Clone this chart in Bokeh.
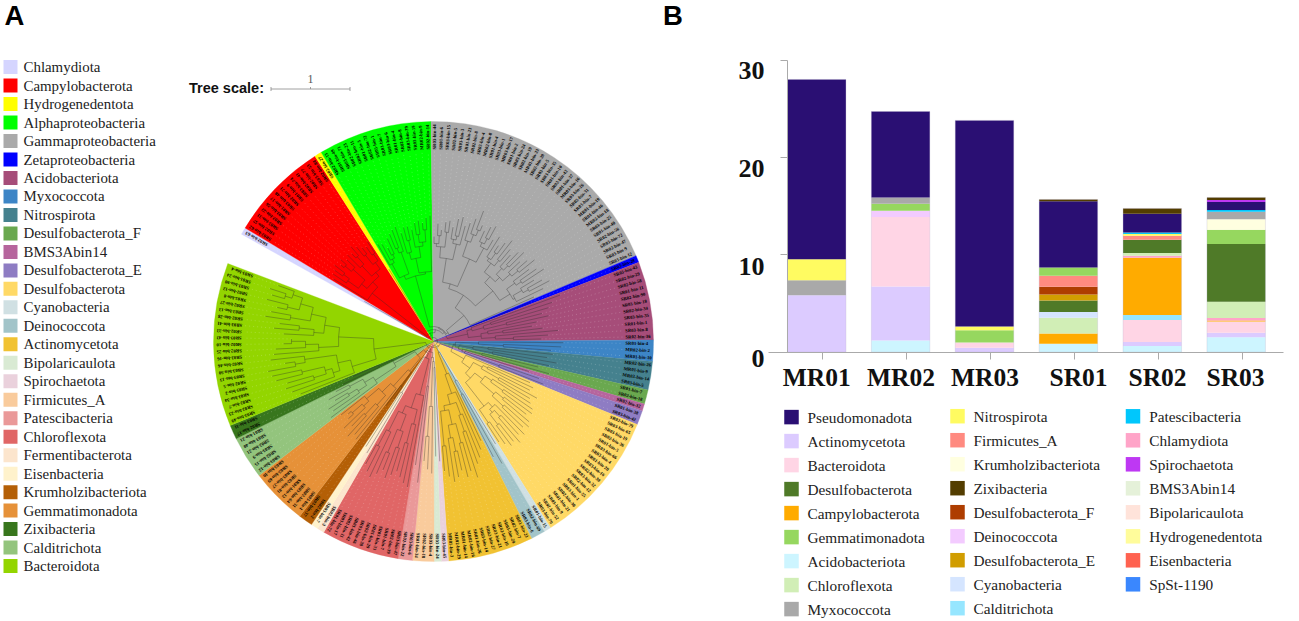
import math
from bokeh.core.properties import value
from bokeh.embed import file_html
from bokeh.layouts import row
from bokeh.models import ColumnDataSource, CustomJSTickFormatter, FixedTicker, Range1d
from bokeh.plotting import figure
from bokeh.resources import INLINE

# ---------- panel A data ----------
tree_clades = ["Chlamydiota", "Campylobacterota", "Hydrogenedentota", "Alphaproteobacteria",
               "Gammaproteobacteria", "Zetaproteobacteria", "Acidobacteriota", "Myxococcota",
               "Nitrospirota", "Desulfobacterota_F", "BMS3Abin14", "Desulfobacterota_E",
               "Desulfobacterota", "Cyanobacteria", "Deinococcota", "Actinomycetota",
               "Spirochaetota", "Bipolaricaulota", "Firmicutes_A", "Patescibacteria",
               "Chloroflexota", "Fermentibacterota", "Eisenbacteria", "Krumholzibacteriota",
               "Gemmatimonadota", "Calditrichota", "Zixibacteria", "Bacteroidota"]
legend_a = ["Chlamydiota", "Campylobacterota", "Hydrogenedentota", "Alphaproteobacteria",
            "Gammaproteobacteria", "Zetaproteobacteria", "Acidobacteriota", "Myxococcota",
            "Nitrospirota", "Desulfobacterota_F", "BMS3Abin14", "Desulfobacterota_E",
            "Desulfobacterota", "Cyanobacteria", "Deinococcota", "Actinomycetota",
            "Bipolaricaulota", "Spirochaetota", "Firmicutes_A", "Patescibacteria",
            "Chloroflexota", "Fermentibacterota", "Eisenbacteria", "Krumholzibacteriota",
            "Gemmatimonadota", "Zixibacteria", "Calditrichota", "Bacteroidota"]
colors_a = {"Chlamydiota": "#D5D5FF", "Campylobacterota": "#FF0000", "Hydrogenedentota": "#FFFF00",
            "Alphaproteobacteria": "#00FF00", "Gammaproteobacteria": "#AAAAAA", "Zetaproteobacteria": "#0000FF",
            "Acidobacteriota": "#A64D79", "Myxococcota": "#3D85C6", "Nitrospirota": "#45818E",
            "Desulfobacterota_F": "#6AA84F", "BMS3Abin14": "#B6659D", "Desulfobacterota_E": "#8E7CC3",
            "Desulfobacterota": "#FFD966", "Cyanobacteria": "#D0E0E3", "Deinococcota": "#A2C4C9",
            "Actinomycetota": "#F1C232", "Bipolaricaulota": "#D9EAD3", "Spirochaetota": "#EAD1DC",
            "Firmicutes_A": "#F9CB9C", "Patescibacteria": "#EA9999", "Chloroflexota": "#E06666",
            "Fermentibacterota": "#FCE5CD", "Eisenbacteria": "#FFF2CC", "Krumholzibacteriota": "#B45F06",
            "Gemmatimonadota": "#E69138", "Zixibacteria": "#38761D", "Calditrichota": "#93C47D",
            "Bacteroidota": "#93D500"}

leaves = {
    "Chlamydiota": ["SR02-bin-63"],
    "Campylobacterota": ["SR02-bin-62", "SR02-bin-57", "SR03-bin-31", "SR02-bin-22", "SR03-bin-56", "SR01-bin-17",
                         "SR03-bin-48", "SR02-bin-71", "SR01-bin-9", "SR03-bin-74", "SR02-bin-41", "SR02-bin-77",
                         "SR03-bin-53", "SR02-bin-84"],
    "Hydrogenedentota": ["SR02-bin-27"],
    "Alphaproteobacteria": ["SR02-bin-13", "SR01-bin-49", "SR03-bin-71", "SR02-bin-23", "SR02-bin-11", "SR01-bin-3",
                            "SR02-bin-72", "SR03-bin-1", "SR03-bin-7", "SR03-bin-6", "SR01-bin-4", "SR02-bin-8",
                            "SR03-bin-39", "SR03-bin-19", "MR02-bin-9", "SR02-bin-14"],
    "Gammaproteobacteria": ["SR03-bin-44", "SR01-bin-6", "SR03-bin-15", "SR02-bin-5", "SR03-bin-3", "SR01-bin-23",
                            "SR02-bin-8", "SR03-bin-4", "MR02-bin-8", "SR01-bin-4", "SR03-bin-1", "MR03-bin-17",
                            "SR01-bin-2", "SR03-bin-24", "SR02-bin-19", "MR01-bin-23", "SR02-bin-28", "SR03-bin-5",
                            "SR03-bin-35", "SR01-bin-10", "SR02-bin-42", "SR01-bin-37", "MR03-bin-16", "SR03-bin-26",
                            "SR02-bin-31", "SR03-bin-7", "MR01-bin-19", "SR01-bin-46", "MR02-bin-18", "SR03-bin-25",
                            "SR01-bin-40", "SR02-bin-56", "SR03-bin-72", "SR02-bin-47", "SR03-bin-9", "SR03-bin-12"],
    "Zetaproteobacteria": ["SR03-bin-28"],
    "Acidobacteriota": ["SR03-bin-43", "SR02-bin-29", "SR02-bin-58", "SR01-bin-11", "SR02-bin-90", "SR03-bin-18",
                        "SR02-bin-34", "SR03-bin-35", "SR01-bin-1", "SR03-bin-8", "SR02-bin-36"],
    "Myxococcota": ["SR03-bin-4", "MR02-bin-2", "MR01-bin-10"],
    "Nitrospirota": ["MR02-bin-26", "MR01-bin-9", "MR03-bin-14", "SR03-bin-5"],
    "Desulfobacterota_F": ["SR01-bin-7", "SR02-bin-18"],
    "BMS3Abin14": ["SR02-bin-32"],
    "Desulfobacterota_E": ["SR01-bin-38", "SR03-bin-42"],
    "Desulfobacterota": ["SR02-bin-79", "SR03-bin-65", "SR03-bin-19", "SR02-bin-36", "SR01-bin-5", "SR03-bin-66",
                         "SR03-bin-4", "SR01-bin-20", "SR03-bin-16", "SR02-bin-30", "SR03-bin-32", "SR02-bin-12",
                         "SR01-bin-55", "SR03-bin-1", "SR02-bin-30", "SR01-bin-21", "SR03-bin-9", "SR02-bin-52",
                         "SR03-bin-70"],
    "Cyanobacteria": ["SR01-bin-15"],
    "Deinococcota": ["SR02-bin-69", "SR03-bin-6"],
    "Actinomycetota": ["SR01-bin-23", "SR02-bin-7", "SR03-bin-29", "SR02-bin-10", "SR03-bin-21", "SR02-bin-27",
                       "SR03-bin-14", "SR01-bin-26", "MR02-bin-16", "MR01-bin-14", "MR02-bin-29", "MR01-bin-3"],
    "Spirochaetota": ["SR03-bin-45"],
    "Bipolaricaulota": ["SR03-bin-24"],
    "Firmicutes_A": ["SR03-bin-4", "SR02-bin-18", "SR01-bin-34"],
    "Patescibacteria": ["SR03-bin-6", "SR02-bin-22"],
    "Chloroflexota": ["SR03-bin-47", "SR02-bin-39", "SR01-bin-7", "SR03-bin-33", "SR01-bin-29", "SR02-bin-38",
                      "SR03-bin-46", "SR01-bin-42", "SR02-bin-11", "SR03-bin-17", "SR01-bin-72"],
    "Fermentibacterota": ["SR02-bin-3"],
    "Eisenbacteria": ["SR03-bin-7"],
    "Krumholzibacteriota": ["SR02-bin-2", "SR03-bin-37"],
    "Gemmatimonadota": ["SR03-bin-1", "SR02-bin-31", "SR03-bin-64", "SR01-bin-12", "SR02-bin-81", "SR03-bin-27",
                        "SR02-bin-69", "SR03-bin-10"],
    "Calditrichota": ["SR03-bin-12", "SR02-bin-15", "SR03-bin-9", "SR02-bin-21", "SR03-bin-40", "SR01-bin-21"],
    "Zixibacteria": ["SR02-bin-17", "SR03-bin-11"],
    "Bacteroidota": ["SR03-bin-49", "SR02-bin-23", "SR02-bin-7", "SR03-bin-34", "SR03-bin-2", "SR02-bin-5",
                     "SR03-bin-13", "SR03-bin-50", "SR02-bin-46", "SR03-bin-16", "SR02-bin-25", "SR02-bin-10",
                     "SR03-bin-43", "SR02-bin-33", "SR03-bin-41", "SR02-bin-28", "SR03-bin-13", "SR02-bin-27",
                     "SR03-bin-8", "SR02-bin-12", "SR03-bin-90", "SR01-bin-24", "SR03-bin-4"],
}
# branch tips and merge depths of each clade (distance from the root)
tips = {
    "Chlamydiota": [80],
    "Campylobacterota": [118, 121, 122, 125, 120, 124, 119, 122, 120, 126, 122, 118, 116, 120],
    "Hydrogenedentota": [85],
    "Alphaproteobacteria": [112, 110, 104, 113, 116, 119, 121, 113, 118, 118, 114, 120, 122, 119, 124, 126],
    "Gammaproteobacteria": [105, 118, 112, 120, 122, 116, 125, 128, 120, 124, 130, 140, 126, 122, 128, 131, 118, 124,
                            116, 122, 128, 120, 116, 123, 127, 118, 124, 130, 120, 126, 132, 118, 125, 131, 122, 110],
    "Zetaproteobacteria": [105],
    "Acidobacteriota": [135, 125, 120, 112, 118, 105, 100, 110, 125, 115, 108],
    "Myxococcota": [130, 128, 118],
    "Nitrospirota": [120, 115, 125, 118],
    "Desulfobacterota_F": [108, 120],
    "BMS3Abin14": [100],
    "Desulfobacterota_E": [112, 118],
    "Desulfobacterota": [105, 110, 108, 118, 112, 115, 120, 122, 118, 125, 128, 124, 130, 126, 133, 128, 130, 125, 120],
    "Cyanobacteria": [120],
    "Deinococcota": [140, 130],
    "Actinomycetota": [110, 118, 125, 130, 143, 135, 140, 132, 138, 142, 136, 130],
    "Spirochaetota": [120],
    "Bipolaricaulota": [115],
    "Firmicutes_A": [132, 128, 120],
    "Patescibacteria": [142, 125],
    "Chloroflexota": [148, 145, 140, 135, 140, 145, 138, 144, 150, 146, 140],
    "Fermentibacterota": [130],
    "Eisenbacteria": [125],
    "Krumholzibacteriota": [70, 80],
    "Gemmatimonadota": [125, 122, 128, 118, 125, 115, 112, 118],
    "Calditrichota": [128, 122, 125, 115, 120, 110],
    "Zixibacteria": [100, 88],
    "Bacteroidota": [143, 150, 155, 152, 162, 165, 168, 150, 164, 160, 158, 150, 142, 150, 160, 155, 170, 165, 160, 172,
                     168, 172, 165],
}
merges = {
    "Chlamydiota": [],
    "Campylobacterota": [78, 105, 112, 92, 116, 108, 85, 104, 114, 90, 110, 98, 106],
    "Hydrogenedentota": [],
    "Alphaproteobacteria": [88, 92, 96, 72, 100, 95, 68, 92, 104, 85, 96, 108, 100, 112, 70],
    "Gammaproteobacteria": [98, 106, 95, 110, 84, 104, 108, 100, 60, 106, 114, 120, 90, 110, 116, 106, 55, 100, 108, 97,
                            104, 86, 100, 106, 92, 102, 110, 78, 100, 106, 90, 102, 108, 92, 40],
    "Zetaproteobacteria": [],
    "Acidobacteriota": [40, 60, 52, 75, 35, 55, 70, 48, 62, 80],
    "Myxococcota": [45, 70],
    "Nitrospirota": [55, 40, 60],
    "Desulfobacterota_F": [50],
    "BMS3Abin14": [],
    "Desulfobacterota_E": [70],
    "Desulfobacterota": [35, 60, 55, 75, 45, 70, 85, 62, 90, 80, 95, 52, 88, 100, 92, 105, 82, 98],
    "Cyanobacteria": [],
    "Deinococcota": [60],
    "Actinomycetota": [35, 55, 78, 95, 65, 105, 85, 112, 98, 70, 105],
    "Spirochaetota": [],
    "Bipolaricaulota": [],
    "Firmicutes_A": [65, 95],
    "Patescibacteria": [45],
    "Chloroflexota": [55, 85, 105, 70, 112, 95, 120, 78, 100, 118],
    "Fermentibacterota": [],
    "Eisenbacteria": [],
    "Krumholzibacteriota": [55],
    "Gemmatimonadota": [60, 85, 100, 72, 95, 108, 88],
    "Calditrichota": [70, 90, 100, 80, 95],
    "Zixibacteria": [60],
    "Bacteroidota": [85, 105, 125, 112, 135, 98, 140, 130, 60, 115, 128, 142, 95, 120, 135, 110, 145, 125, 150, 138, 155,
                     148],
}
clade_links = [6, 9, 12, 15, 17, 14, 4, 22, 26, 30, 33, 20, 7, 45, 12, 6, 26, 20, 16, 11, 18, 60, 13, 38, 21, 45, 8]

# ---------- panel B data ----------
samples = ["MR01", "MR02", "MR03", "SR01", "SR02", "SR03"]
legend_b = [["Pseudomonadota", "Actinomycetota", "Bacteroidota", "Desulfobacterota", "Campylobacterota",
             "Gemmatimonadota", "Acidobacteriota", "Chloroflexota", "Myxococcota"],
            ["Nitrospirota", "Firmicutes_A", "Krumholzibacteriota", "Zixibacteria", "Desulfobacterota_F",
             "Deinococcota", "Desulfobacterota_E", "Cyanobacteria", "Calditrichota"],
            ["Patescibacteria", "Chlamydiota", "Spirochaetota", "BMS3Abin14", "Bipolaricaulota",
             "Hydrogenedentota", "Eisenbacteria", "SpSt-1190"]]
colors_b = {"Pseudomonadota": "#2A0F73", "Actinomycetota": "#DCCBFF", "Bacteroidota": "#FFD5E5",
            "Desulfobacterota": "#4F7A28", "Campylobacterota": "#FFAB00", "Gemmatimonadota": "#96D75F",
            "Acidobacteriota": "#CDF5FF", "Chloroflexota": "#D1EEB6", "Myxococcota": "#A9A9A9",
            "Nitrospirota": "#FFFB61", "Firmicutes_A": "#FF8A80", "Krumholzibacteriota": "#FFFFE0",
            "Zixibacteria": "#533D00", "Desulfobacterota_F": "#AE3D00", "Deinococcota": "#F3CBFF",
            "Desulfobacterota_E": "#D19D00", "Cyanobacteria": "#D5E5FF", "Calditrichota": "#96E6FF",
            "Patescibacteria": "#00C7FC", "Chlamydiota": "#FFA4C8", "Spirochaetota": "#BE38F3",
            "BMS3Abin14": "#E5F1D9", "Bipolaricaulota": "#FFE3DA", "Hydrogenedentota": "#FFFC9B",
            "Eisenbacteria": "#FF6250", "SpSt-1190": "#3A87FE"}
stack_order = ["Acidobacteriota", "Actinomycetota", "Bacteroidota", "Bipolaricaulota", "BMS3Abin14", "Calditrichota",
               "Campylobacterota", "Chlamydiota", "Chloroflexota", "Cyanobacteria", "Deinococcota", "Desulfobacterota",
               "Desulfobacterota_E", "Desulfobacterota_F", "Eisenbacteria", "Firmicutes_A", "Gemmatimonadota",
               "Hydrogenedentota", "Krumholzibacteriota", "Myxococcota", "Nitrospirota", "Patescibacteria",
               "Pseudomonadota", "SpSt-1190", "Spirochaetota", "Zixibacteria"]
abundance = {
    "Acidobacteriota":     [0, 1.2, 0, 0.86, 0.62, 1.54],
    "Actinomycetota":      [5.85, 5.55, 0.45, 0, 0.41, 0.45],
    "Bacteroidota":        [0, 7.15, 0.55, 0, 2.26, 1.17],
    "Bipolaricaulota":     [0, 0, 0, 0, 0, 0],
    "BMS3Abin14":          [0, 0, 0, 0, 0, 0],
    "Calditrichota":       [0, 0, 0, 0, 0.52, 0],
    "Campylobacterota":    [0, 0, 0, 1.06, 5.89, 0.1],
    "Chlamydiota":         [0, 0, 0, 0, 0.2, 0.24],
    "Chloroflexota":       [0, 0, 0, 1.61, 0.29, 1.68],
    "Cyanobacteria":       [0, 0, 0, 0.59, 0, 0],
    "Deinococcota":        [0, 0.65, 0, 0, 0, 0],
    "Desulfobacterota":    [0, 0, 0, 1.2, 1.37, 5.93],
    "Desulfobacterota_E":  [0, 0, 0, 0.61, 0, 0],
    "Desulfobacterota_F":  [0, 0, 0, 0.79, 0, 0],
    "Eisenbacteria":       [0, 0, 0, 0, 0, 0],
    "Firmicutes_A":        [0, 0, 0, 1.13, 0.41, 0],
    "Gemmatimonadota":     [0, 0.7, 1.26, 0.86, 0, 1.48],
    "Hydrogenedentota":    [0, 0, 0, 0, 0, 0],
    "Krumholzibacteriota": [0, 0, 0, 0, 0, 1.09],
    "Myxococcota":         [1.55, 0.65, 0, 0, 0, 0.76],
    "Nitrospirota":        [2.15, 0, 0.38, 0, 0.17, 0],
    "Patescibacteria":     [0, 0, 0, 0, 0.17, 0.17],
    "Pseudomonadota":      [18.5, 8.85, 21.2, 6.82, 1.92, 0.82],
    "SpSt-1190":           [0, 0, 0, 0, 0, 0],
    "Spirochaetota":       [0, 0, 0, 0, 0, 0.21],
    "Zixibacteria":        [0, 0, 0, 0.17, 0.55, 0.27],
}
y_ticks = [0, 10, 20, 30]

# ---------- layout constants (page pixels) ----------
PAGE_W = 1299
PAGE_H = 621
SPLIT = 735
CX, CY, R = 433, PAGE_H - 341, 220
LEAF_STEP = 1.88
START_ANGLE = -60.8
LABEL_R = 192
SERIF = "Liberation Serif"
SANS = "Liberation Sans"


def page_y(py):
    return PAGE_H - py


def polar(a_deg, r):
    t = math.radians(a_deg)
    return CX + r * math.sin(t), CY + r * math.cos(t)


# ---------- panel A ----------
left = figure(width=SPLIT, height=PAGE_H, x_range=Range1d(0, SPLIT), y_range=Range1d(0, PAGE_H),
              output_backend="svg", toolbar_location=None, x_axis_location=None, y_axis_location=None,
              min_border=0, outline_line_color=None)
left.grid.visible = False

angles, all_tips, all_merges, all_names = [], [], [], []
edge = START_ANGLE
sectors = []
for i, clade in enumerate(tree_clades):
    n = len(leaves[clade])
    sectors.append((clade, edge, edge + n * LEAF_STEP))
    for j in range(n):
        angles.append(edge + (j + 0.5) * LEAF_STEP)
    edge += n * LEAF_STEP
    all_tips += tips[clade]
    all_names += leaves[clade]
    all_merges += merges[clade]
    if i < len(clade_links):
        all_merges.append(clade_links[i])

left.wedge(x=CX, y=CY, radius=R,
           start_angle=[math.radians(90 - s[2]) for s in sectors],
           end_angle=[math.radians(90 - s[1]) for s in sectors],
           fill_color=[colors_a[s[0]] for s in sectors],
           line_color=[colors_a[s[0]] for s in sectors], line_width=0.3)

# dotted leaders from the tips to the labels
lead0 = [polar(a, t) for a, t in zip(angles, all_tips)]
lead1 = [polar(a, LABEL_R - 2) for a in angles]
left.segment(x0=[p[0] for p in lead0], y0=[p[1] for p in lead0], x1=[p[0] for p in lead1], y1=[p[1] for p in lead1],
             line_color="white", line_alpha=0.35, line_width=0.6, line_dash="1 3")

# the tree, rebuilt from tip and merge depths
seg = []
arcs = []


def build(lo, hi):
    if lo == hi:
        return angles[lo], all_tips[lo]
    k = min(range(lo, hi), key=lambda q: all_merges[q])
    al, rl = build(lo, k)
    ar, rr = build(k + 1, hi)
    m = all_merges[k]
    seg.append((al, m, rl))
    seg.append((ar, m, rr))
    arcs.append((m, al, ar))
    return (al + ar) / 2, m


root_a, root_r = build(0, len(angles) - 1)
seg.append((root_a, 0, root_r))
s0 = [polar(s[0], s[1]) for s in seg]
s1 = [polar(s[0], s[2]) for s in seg]
left.segment(x0=[p[0] for p in s0], y0=[p[1] for p in s0], x1=[p[0] for p in s1], y1=[p[1] for p in s1],
             line_color="#2b2b2b", line_alpha=0.7, line_width=0.5)
left.arc(x=CX, y=CY, radius=[a[0] for a in arcs],
         start_angle=[math.radians(90 - a[2]) for a in arcs], end_angle=[math.radians(90 - a[1]) for a in arcs],
         line_color="#2b2b2b", line_alpha=0.7, line_width=0.5)

lab = [polar(a, LABEL_R) for a in angles]
left.text(x=[p[0] for p in lab], y=[p[1] for p in lab], text=all_names,
          angle=[math.radians(90 - a) for a in angles], text_font=value(SERIF), text_font_style="bold",
          text_font_size="4.7px", text_align="left", text_baseline="middle", text_color="black")

# legend A
LEG_Y0, LEG_STEP = 66.6, 18.48
ly = [page_y(LEG_Y0 + i * LEG_STEP) for i in range(len(legend_a))]
left.rect(x=10, y=ly, width=14, height=14, fill_color=[colors_a[c] for c in legend_a], line_color=None)
left.text(x=23, y=ly, text=legend_a, text_font=value(SERIF), text_font_size="14.9px",
          text_baseline="middle", text_color="#222222")

# scale bar
left.text(x=[188.5], y=[page_y(87.5)], text=["Tree scale:"], text_font=value(SANS), text_font_style="bold",
          text_font_size="14.5px", text_baseline="middle", text_color="#111111")
left.segment(x0=[270.5, 270.5, 310, 349.5], y0=[page_y(88.5), page_y(86.5), page_y(86.5), page_y(86.5)],
             x1=[349.5, 270.5, 310, 349.5], y1=[page_y(88.5), page_y(90.5), page_y(88.5), page_y(90.5)],
             line_color="#888888", line_width=0.8)
left.text(x=[310], y=[page_y(78)], text=["1"], text_font=value(SERIF), text_font_size="12px",
          text_align="center", text_baseline="middle", text_color="#555555")

left.text(x=[4, 662.5], y=[page_y(14.5), page_y(14.5)], text=["A", "B"], text_font=value(SANS), text_font_style="bold",
          text_font_size="27.5px", text_baseline="middle", text_color="black")

# ---------- panel B ----------
BAR0, BAR_STEP, BASE, UNIT = 816.2, 83.9, 351.6, 9.72


def ux(px):
    return (px - BAR0) / BAR_STEP


right = figure(width=PAGE_W - SPLIT, height=PAGE_H, output_backend="svg", toolbar_location=None,
               x_range=Range1d(ux(SPLIT), ux(PAGE_W)),
               y_range=Range1d((BASE - PAGE_H) / UNIT, BASE / UNIT),
               min_border=0, outline_line_color=None)
right.grid.visible = False
right.extra_x_ranges["px"] = Range1d(SPLIT, PAGE_W)
right.extra_y_ranges["px"] = Range1d(0, PAGE_H)

xs = list(range(len(samples)))
src = dict(x=xs)
for name in stack_order:
    src[name] = abundance[name]
source = ColumnDataSource(src)
right.vbar_stack(stack_order, x="x", width=0.697, source=source, fill_color=[colors_b[n] for n in stack_order],
                 line_color=None)
totals = [sum(abundance[n][i] for n in stack_order) for i in xs]
right.vbar(x=xs, top=totals, width=0.697, bottom=0, fill_color=None, line_color="#b4aecb", line_alpha=0.45,
           line_width=0.6)

blank = CustomJSTickFormatter(code="return ''")
xax = right.xaxis[0]
xax.fixed_location = 0
xax.bounds = (ux(768), ux(1283))
xax.ticker = FixedTicker(ticks=[ux(p) for p in [822, 906, 990, 1074, 1158, 1242]])
xax.formatter = blank
xax.minor_tick_line_color = None
xax.major_tick_out, xax.major_tick_in = 7, 0
xax.axis_line_color = xax.major_tick_line_color = "#aaaaaa"
xax.axis_line_width = 1

yax = right.yaxis[0]
yax.fixed_location = ux(787)
yax.bounds = (0, 30)
yax.ticker = FixedTicker(ticks=y_ticks)
yax.formatter = blank
yax.minor_tick_line_color = None
yax.major_tick_out, yax.major_tick_in = 7, 0
yax.axis_line_color = yax.major_tick_line_color = "#aaaaaa"
yax.axis_line_width = 1

sample_x = [816.2, 900.5, 984.5, 1078, 1157, 1235]
sample_y = page_y(377.2)
right.text(x=sample_x, y=sample_y, text=samples, x_range_name="px", y_range_name="px", text_font=value(SERIF),
           text_font_style="bold", text_font_size="25.5px", text_align="center", text_baseline="middle",
           text_color="#111111")
tick_label_y = [357.5, 266, 167.5, 69.5]
right.text(x=764, y=[page_y(v) for v in tick_label_y], text=[str(t) for t in y_ticks], x_range_name="px", y_range_name="px",
           text_font=value(SERIF), text_font_style="bold", text_font_size="26px", text_align="right",
           text_baseline="middle", text_color="#111111")

leg_cols = [(791, 807, 416.6), (957, 973, 415.7), (1132.5, 1148.7, 415.8)]
for (sx, tx, y0), names in zip(leg_cols, legend_b):
    yy = [page_y(y0 + i * 24.0) for i in range(len(names))]
    right.rect(x=sx, y=yy, width=14.5, height=14.5, x_range_name="px", y_range_name="px",
               fill_color=[colors_b[n] for n in names], line_color=None)
    right.text(x=tx, y=yy, text=names, x_range_name="px", y_range_name="px", text_font=value(SERIF),
               text_font_size="15.3px", text_baseline="middle", text_color="#222222")

page = row(left, right, spacing=0)
page.margin = 0
open("out.html", "w").write(file_html(page, INLINE))
